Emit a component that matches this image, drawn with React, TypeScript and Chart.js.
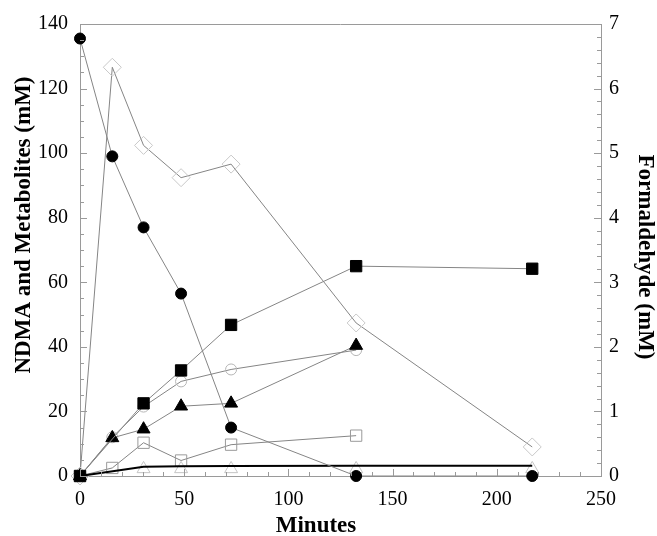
import { useEffect, useRef } from 'react';
import { Chart, registerables } from 'chart.js';

Chart.register(...registerables);

// ---- data ----
const ndmaMinutes = [0, 15.5, 30.5, 48.5, 72.5, 132.5, 217];
const ndma = [135.5, 99, 77, 56.5, 15, 0, 0];

const filledSquareMinutes = [0, 30.5, 48.5, 72.5, 132.5, 217];
const filledSquare = [0, 22.5, 32.7, 46.8, 65, 64.2];

const filledTriangleMinutes = [0, 15.5, 30.5, 48.5, 72.5, 132.5];
const filledTriangle = [0, 11.8, 14.5, 21.6, 22.5, 40.4];

const openCircleMinutes = [0, 15.5, 30.5, 48.5, 72.5, 132.5];
const openCircle = [0, 12, 21.5, 29.3, 33, 39];

const openSquareMinutes = [0, 15.5, 30.5, 48.5, 72.5, 132.5];
const openSquare = [0, 2.5, 10.3, 4.8, 9.7, 12.5];

const openTriangleMinutes = [0, 30.5, 48.5, 72.5, 132.5, 217];
const openTriangle = [0, 2.2, 2.2, 2.2, 2.2, 2.2];

const totalLineMinutes = [0, 30.5, 48.5, 72.5, 132.5, 217];
const totalLine = [0, 2.9, 3.0, 3.1, 3.2, 3.2];

const formaldehydeMinutes = [0, 15.5, 30.5, 48.5, 72.5, 132.5, 217];
const formaldehyde = [0, 6.33, 5.12, 4.62, 4.83, 2.37, 0.45];

const xTitle = 'Minutes';
const yTitle = 'NDMA and Metabolites (mM)';
const y2Title = 'Formaldehyde (mM)';

const pts = (xs: number[], ys: number[]) => xs.map((x, i) => ({ x, y: ys[i] }));

const FONT = '"Liberation Serif", "Times New Roman", serif';

const framePlugin = {
  id: 'frameAndTicks',
  afterDatasetsDraw(chart: any) {
    const { ctx, chartArea } = chart;
    const { left, right, top, bottom } = chartArea;
    const xs = chart.scales.x;
    const ys = chart.scales.y;
    const y2 = chart.scales.y2;
    ctx.save();
    ctx.strokeStyle = '#9a9a9a';
    ctx.lineWidth = 1;
    ctx.beginPath();
    ctx.moveTo(left, top + 0.5);
    ctx.lineTo(right, top + 0.5);
    // left ticks every 5, major every 20
    for (let v = 0; v <= 140; v += 5) {
      const p = Math.round(ys.getPixelForValue(v)) + 0.5;
      const len = v % 20 === 0 ? 7 : 4;
      ctx.moveTo(left, p);
      ctx.lineTo(left + len, p);
    }
    // right ticks every 0.2, major every 1
    for (let i = 0; i <= 35; i++) {
      const v = i * 0.2;
      const p = Math.round(y2.getPixelForValue(v)) + 0.5;
      const len = i % 5 === 0 ? 7 : 4;
      ctx.moveTo(right, p);
      ctx.lineTo(right - len, p);
    }
    // bottom ticks every 10, major every 50
    for (let v = 0; v <= 250; v += 10) {
      const p = Math.round(xs.getPixelForValue(v)) + 0.5;
      const len = v % 50 === 0 ? 7 : 4;
      ctx.moveTo(p, bottom);
      ctx.lineTo(p, bottom - len);
    }
    ctx.stroke();
    ctx.restore();
  },
  afterDraw(chart: any) {
    const { ctx } = chart;
    ctx.save();
    ctx.fillStyle = '#000';
    ctx.font = `bold 23px ${FONT}`;
    ctx.textAlign = 'center';
    ctx.textBaseline = 'middle';
    ctx.fillText(xTitle, 316, 526);
    ctx.save();
    ctx.translate(24, 225);
    ctx.rotate(-Math.PI / 2);
    ctx.fillText(yTitle, 0, 0);
    ctx.restore();
    ctx.save();
    ctx.translate(645, 257);
    ctx.rotate(Math.PI / 2);
    ctx.fillText(y2Title, 0, 0);
    ctx.restore();
    ctx.restore();
  },
};

export default function App() {
  const ref = useRef<HTMLCanvasElement>(null);
  useEffect(() => {
    document.body.style.margin = '0';
    const canvas = ref.current!;
    const gray = '#858585';
    const base = {
      showLine: true,
      borderColor: gray,
      borderWidth: 1,
      pointBorderWidth: 1,
      tension: 0,
      clip: false as const,
    };
    const chart = new Chart(canvas, {
      type: 'scatter',
      data: {
        datasets: [
          {
            ...base,
            label: 'NDMA',
            data: pts(ndmaMinutes, ndma),
            pointStyle: 'circle',
            pointRadius: 5.5,
            pointBackgroundColor: '#000',
            pointBorderColor: '#000',
            yAxisID: 'y',
          },
          {
            ...base,
            label: 'filled squares',
            data: pts(filledSquareMinutes, filledSquare),
            pointStyle: 'rect',
            pointRadius: 8,
            pointBackgroundColor: '#000',
            pointBorderColor: '#000',
            yAxisID: 'y',
          },
          {
            ...base,
            label: 'filled triangles',
            data: pts(filledTriangleMinutes, filledTriangle),
            pointStyle: 'triangle',
            pointRadius: 7.5,
            pointBackgroundColor: '#000',
            pointBorderColor: '#000',
            yAxisID: 'y',
          },
          {
            ...base,
            label: 'total',
            data: pts(totalLineMinutes, totalLine),
            borderColor: '#000',
            borderWidth: 2,
            pointRadius: 0,
            yAxisID: 'y',
          },
          {
            ...base,
            label: 'open circles',
            data: pts(openCircleMinutes, openCircle),
            pointStyle: 'circle',
            pointRadius: 5.5,
            pointBackgroundColor: 'rgba(0,0,0,0)',
            pointBorderColor: '#b5b5b5',
            yAxisID: 'y',
          },
          {
            ...base,
            label: 'open squares',
            data: pts(openSquareMinutes, openSquare),
            pointStyle: 'rect',
            pointRadius: 8,
            pointBackgroundColor: 'rgba(0,0,0,0)',
            pointBorderColor: '#9a9a9a',
            yAxisID: 'y',
          },
          {
            ...base,
            label: 'open triangles',
            data: pts(openTriangleMinutes, openTriangle),
            showLine: false,
            pointStyle: 'triangle',
            pointRadius: 7.5,
            pointBackgroundColor: 'rgba(0,0,0,0)',
            pointBorderColor: '#c4c4c4',
            yAxisID: 'y',
          },
          {
            ...base,
            label: 'Formaldehyde',
            data: pts(formaldehydeMinutes, formaldehyde),
            pointStyle: 'rectRot',
            pointRadius: 9,
            pointBackgroundColor: 'rgba(0,0,0,0)',
            pointBorderColor: '#c8c8c8',
            yAxisID: 'y2',
          },
        ],
      },
      options: {
        responsive: false,
        animation: false,
        devicePixelRatio: 1,
        layout: { padding: { top: 22, left: 0, right: 0, bottom: 0 }, autoPadding: false },
        plugins: { legend: { display: false }, tooltip: { enabled: false } },
        font: { family: FONT, size: 20 },
        scales: {
          x: {
            type: 'linear',
            min: 0,
            max: 250,
            grid: { display: false, drawTicks: false },
            border: { display: true, color: '#9a9a9a' },
            ticks: { stepSize: 50, padding: 12, color: '#000', font: { family: FONT, size: 20 } },
            afterFit: (s: any) => { s.height = 60; },
          },
          y: {
            type: 'linear',
            position: 'left',
            min: 0,
            max: 140,
            grid: { display: false, drawTicks: false },
            border: { display: true, color: '#9a9a9a' },
            ticks: { stepSize: 20, padding: 12, color: '#000', font: { family: FONT, size: 20 } },
            afterFit: (s: any) => { s.width = 80; },
          },
          y2: {
            type: 'linear',
            position: 'right',
            min: 0,
            max: 7,
            grid: { display: false, drawTicks: false },
            border: { display: true, color: '#9a9a9a' },
            ticks: { stepSize: 1, padding: 8, color: '#000', font: { family: FONT, size: 20 } },
            afterFit: (s: any) => { s.width = 56; },
          },
        },
      } as any,
      plugins: [framePlugin],
    });
    return () => chart.destroy();
  }, []);
  return <canvas ref={ref} width={657} height={536} style={{ display: 'block' }} />;
}
